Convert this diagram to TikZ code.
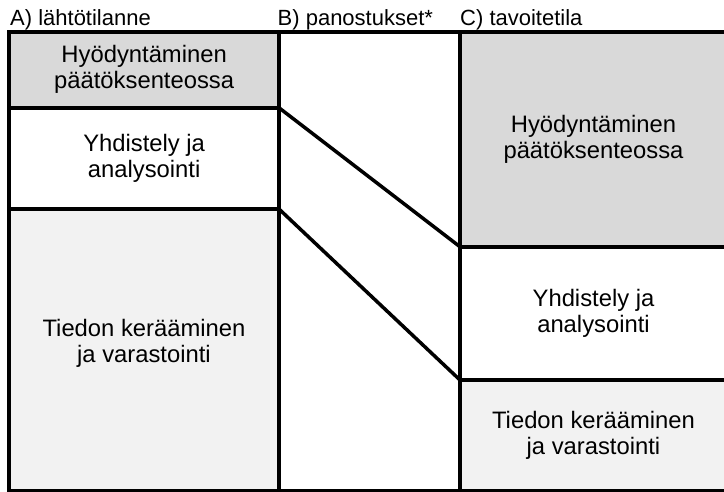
\documentclass[tikz,border=0pt]{standalone}
\usepackage{fontspec}
\setmainfont{Liberation Sans}
\definecolor{cellgrey}{HTML}{D9D9D9}
\definecolor{celllight}{HTML}{F2F2F2}
\begin{document}
\begin{tikzpicture}[x=1pt,y=-1pt,
  celltext/.style={align=center, font=\fontsize{23.8}{26}\selectfont},
  cell/.style={celltext, draw=black, line width=4pt, rectangle, anchor=north west,
    inner sep=0pt, outer sep=0pt},
  header/.style={anchor=base west, inner sep=0pt,
    font=\fontsize{22}{24}\selectfont},
  boundary/.style={line width=3.5pt}]
\useasboundingbox (0,0) rectangle (724,491);
\begin{scope}
\clip (0,0) rectangle (724,491);
% column headers
\node[header] (ha) at (10,25) {A) lähtötilanne};
\node[header] (hb) at (277.5,25) {B) panostukset*};
\node[header] (hc) at (460,25) {C) tavoitetila};
% A: starting point
\node[cell, fill=cellgrey, minimum width=270.3pt, minimum height=76.5pt] (a1) at (9,31.5)
  {Hyödyntäminen\\päätöksenteossa};
\node[cell, fill=white, minimum width=270.3pt, minimum height=101.3pt] (a2) at (9,108)
  {Yhdistely ja\\analysointi};
\node[cell, fill=celllight, minimum width=270.3pt, minimum height=281.2pt] (a3) at (9,209.3) {};
\node[celltext] (a3t) at (144,343)
  {Tiedon kerääminen\\ja varastointi};
% B: investments
\node[cell, fill=white, minimum width=181pt, minimum height=459pt] (b) at (279.3,31.5) {};
% C: target state
\node[cell, fill=cellgrey, minimum width=266.4pt, minimum height=215.5pt] (c1) at (460.3,31.5)
  {Hyödyntäminen\\päätöksenteossa};
\node[cell, fill=white, minimum width=266.4pt, minimum height=133.3pt] (c2) at (460.3,247)
  {Yhdistely ja\\analysointi};
\node[cell, fill=celllight, minimum width=266.4pt, minimum height=110.2pt] (c3) at (460.3,380.3)
  {Tiedon kerääminen\\ja varastointi};
% shifting boundaries
\draw[boundary] (a2.north east) -- (c2.north west);
\draw[boundary] (a3.north east) -- (c3.north west);
\end{scope}
\end{tikzpicture}
\end{document}
